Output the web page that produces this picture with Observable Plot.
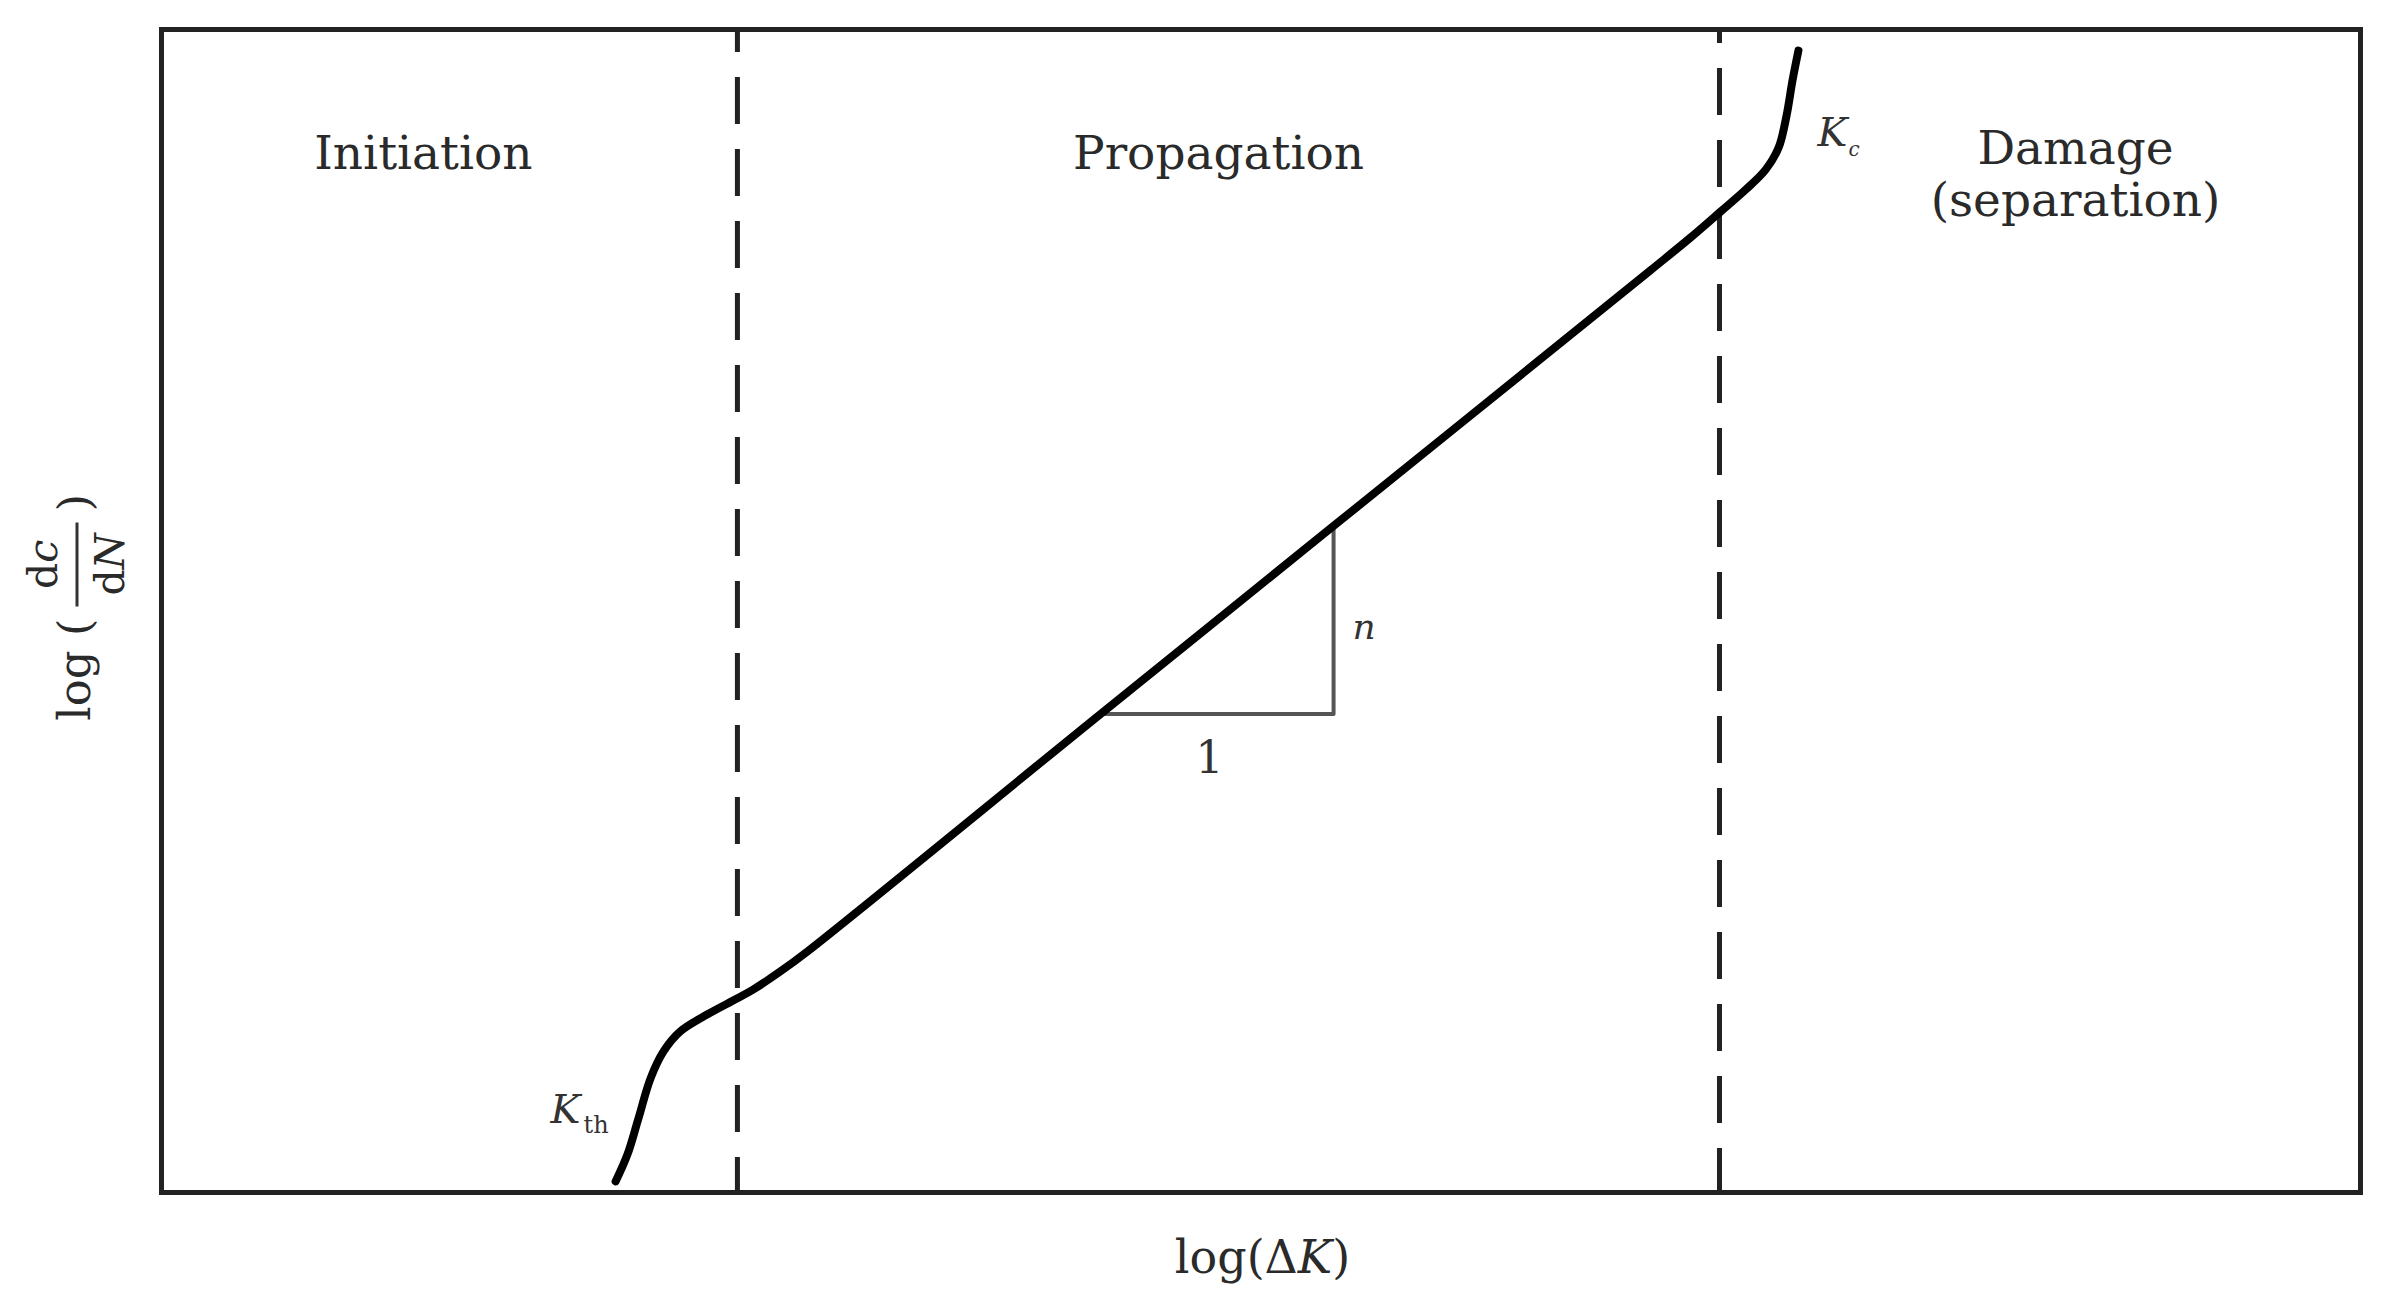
<!DOCTYPE html>
<html>
<head>
<meta charset="utf-8">
<script src="https://cdn.jsdelivr.net/npm/d3@7"></script>
<script src="https://cdn.jsdelivr.net/npm/@observablehq/plot@0.6"></script>
<style>
  html, body { margin: 0; padding: 0; background: #fff; }
  #chart svg { display: block; }
</style>
</head>
<body>
<div id="chart"></div>
<script>
// Schematic fatigue crack growth curve (arbitrary units, 0–100 on both axes)
const curveX = [20.65, 21.19, 21.69, 22.24, 22.83, 23.60, 24.83, 26.19, 26.92, 28.15, 29.38, 42.70, 53.30, 67.71, 69.53, 70.90, 72.04, 72.95, 73.54, 73.90, 74.17, 74.44];
const curveY = [0.95, 3.27, 6.37, 9.81, 12.13, 13.86, 15.32, 16.70, 17.47, 19.02, 20.74, 41.14, 57.31, 79.29, 82.10, 84.34, 86.23, 87.95, 89.85, 92.60, 95.61, 98.19];

// Region boundaries (dashed)
const boundaryX = [26.19, 70.85];

// Slope triangle
const triX = [42.70, 53.30, 53.30];
const triY = [41.14, 41.14, 57.31];

// Region labels
const regionLabels = ["Initiation", "Propagation", "Damage", "(separation)"];
const regionX = [11.91, 48.07, 87.04, 87.04];
const regionY = [88.04, 88.04, 88.47, 83.99];

const curve = curveX.map((x, i) => ({x, y: curveY[i]}));
const tri = triX.map((x, i) => ({x, y: triY[i]}));
const regions = regionLabels.map((t, i) => ({t, x: regionX[i], y: regionY[i]}));

const serif = "DejaVu Serif";
const W = 2392, H = 1294;

const plot = Plot.plot({
  width: W,
  height: H,
  marginLeft: 161,
  marginRight: 32,
  marginTop: 29,
  marginBottom: 102,
  x: {domain: [0, 100], axis: null},
  y: {domain: [0, 100], axis: null},
  style: {background: "#fff", fontFamily: serif},
  marks: [
    Plot.ruleX([boundaryX[0]], {x: d => d, y1: 100, y2: 0, stroke: "#222", strokeWidth: 5, strokeDasharray: "47,25", strokeDashoffset: 24}),
    Plot.ruleX([boundaryX[1]], {x: d => d, y1: 100, y2: 0, stroke: "#222", strokeWidth: 5, strokeDasharray: "47,25", strokeDashoffset: 33}),
    Plot.line(tri, {x: "x", y: "y", stroke: "#555", strokeWidth: 4}),
    Plot.line(curve, {x: "x", y: "y", curve: "catmull-rom", stroke: "#000", strokeWidth: 8, strokeLinecap: "round"}),
    Plot.text(regions, {x: "x", y: "y", text: "t", fontSize: 47, fill: "#2a2a2a", textAnchor: "middle", lineAnchor: "bottom", fontFamily: serif}),
    // K_th
    Plot.text(["K"], {x: 17.69, y: 5.94, text: d => d, fontSize: 40, fontStyle: "italic", fill: "#333", textAnchor: "start", lineAnchor: "bottom", fontFamily: serif}),
    Plot.text(["th"], {x: 19.19, y: 5.08, text: d => d, fontSize: 24, fill: "#333", textAnchor: "start", lineAnchor: "bottom", fontFamily: serif}),
    // K_c
    Plot.text(["K"], {x: 75.31, y: 90.02, text: d => d, fontSize: 40, fontStyle: "italic", fill: "#333", textAnchor: "start", lineAnchor: "bottom", fontFamily: serif}),
    Plot.text(["c"], {x: 76.72, y: 89.16, text: d => d, fontSize: 20, fontStyle: "italic", fill: "#333", textAnchor: "start", lineAnchor: "bottom", fontFamily: serif}),
    // slope labels
    Plot.text(["n"], {x: 54.16, y: 47.59, text: d => d, fontSize: 36, fontStyle: "italic", fill: "#333", textAnchor: "start", lineAnchor: "bottom", fontFamily: serif}),
    Plot.text(["1"], {x: 47.66, y: 36.06, text: d => d, fontSize: 44, fill: "#333", textAnchor: "middle", lineAnchor: "bottom", fontFamily: serif}),
    Plot.frame({stroke: "#222", strokeWidth: 5})
  ]
});

const svg = d3.select(plot);
const sx = plot.scale("x"), sy = plot.scale("y");
const cx = (sx.apply(0) + sx.apply(100)) / 2;
const cy = (sy.apply(0) + sy.apply(100)) / 2;

// x-axis label: log(ΔK)
const xl = svg.append("text")
  .attr("x", cx + 2).attr("y", sy.apply(0) + 81)
  .attr("text-anchor", "middle")
  .attr("font-family", serif).attr("font-size", 46).attr("fill", "#2a2a2a");
xl.append("tspan").text("log(Δ");
xl.append("tspan").attr("font-style", "italic").text("K");
xl.append("tspan").text(")");

// y-axis label: log ( dc / dN )
const g = svg.append("g")
  .attr("transform", `translate(0, ${cy - 4}) rotate(-90)`)
  .attr("font-family", serif).attr("fill", "#2a2a2a");
g.append("text").attr("x", -12).attr("y", 90).attr("text-anchor", "end").attr("font-size", 45).text("log (");
const num = g.append("text").attr("x", 42).attr("y", 57).attr("text-anchor", "middle").attr("font-size", 41);
num.append("tspan").text("d");
num.append("tspan").attr("font-style", "italic").text("c");
g.append("line").attr("x1", 0).attr("x2", 84).attr("y1", 77).attr("y2", 77).attr("stroke", "#333").attr("stroke-width", 3);
const den = g.append("text").attr("x", 42).attr("y", 124).attr("text-anchor", "middle").attr("font-size", 41);
den.append("tspan").text("d");
den.append("tspan").attr("font-style", "italic").text("N");
g.append("text").attr("x", 95).attr("y", 90).attr("text-anchor", "start").attr("font-size", 45).text(")");

document.getElementById("chart").appendChild(plot);
</script>
</body>
</html>
